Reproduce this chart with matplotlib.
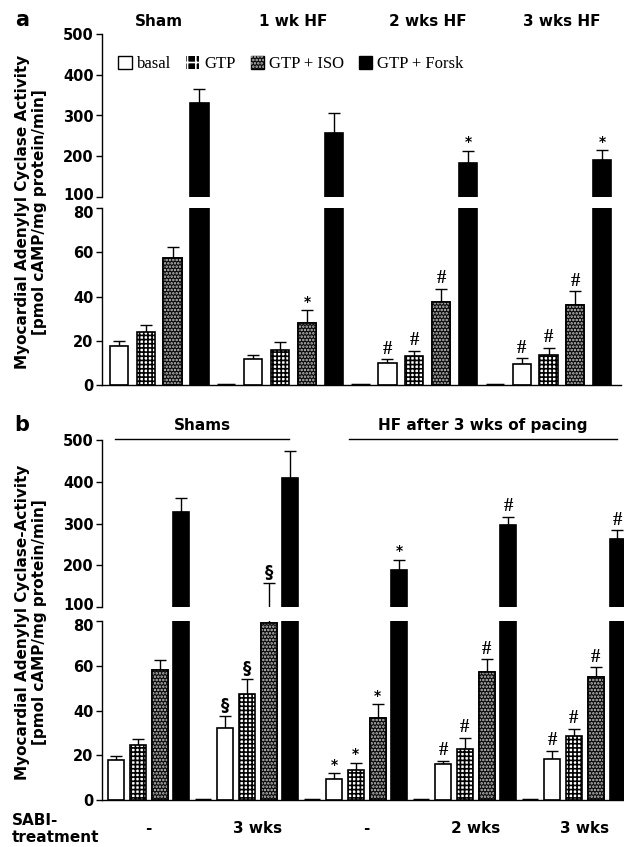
import numpy as np
import matplotlib.pyplot as plt
from matplotlib.patches import Patch
from matplotlib.transforms import blended_transform_factory, ScaledTranslation

plt.rcParams['font.family'] = 'DejaVu Sans'
plt.rcParams['font.weight'] = 'bold'
plt.rcParams['hatch.linewidth'] = 1.2

SERIES = ["basal", "GTP", "GTP + ISO", "GTP + Forsk"]

# ---------------- panel a (time course of HF) ----------------
a_groups = ["Sham", "1 wk HF", "2 wks HF", "3 wks HF"]
a_basal = [17.7, 11.9, 9.8, 9.5]
a_basal_err = [2.0, 1.8, 1.8, 2.7]
a_gtp = [24.0, 15.6, 12.9, 13.5]
a_gtp_err = [2.9, 3.8, 2.6, 3.3]
a_iso = [57.5, 28.1, 37.7, 36.3]
a_iso_err = [4.8, 5.8, 5.8, 6.2]
a_forsk = [331, 257, 184, 190]
a_forsk_err = [33, 48, 30, 25]
a_basal_sig = ["", "", "#", "#"]
a_gtp_sig = ["", "", "#", "#"]
a_iso_sig = ["", "*", "#", "#"]
a_forsk_sig = ["", "", "*", "*"]

# ---------------- panel b (SABI treatment) ----------------
b_treat = ["-", "3 wks", "-", "2 wks", "3 wks"]
b_basal = [18.1, 32.3, 9.6, 16.3, 18.5]
b_basal_err = [1.6, 5.2, 2.5, 1.2, 3.6]
b_gtp = [24.4, 47.4, 13.5, 22.9, 28.4]
b_gtp_err = [2.9, 6.5, 3.2, 5.0, 3.5]
b_iso = [58.1, 79.0, 36.7, 57.2, 55.0]
b_iso_err = [4.6, 78.0, 6.0, 5.8, 4.3]
b_forsk = [328, 410, 188, 296, 264]
b_forsk_err = [34, 63, 25, 20, 20]
b_basal_sig = ["", "§", "*", "#", "#"]
b_gtp_sig = ["", "§", "*", "#", "#"]
b_iso_sig = ["", "§", "*", "#", "#"]
b_forsk_sig = ["", "", "*", "#", "#"]

W, H = 624, 847


def fx(px):
    return px / W


def fy(py):
    return 1 - py / H


def style_axes(fig, ax_top, ax_bot, xlim):
    for ax in (ax_top, ax_bot):
        ax.set_xlim(*xlim)
        ax.spines['top'].set_visible(False)
        ax.spines['right'].set_visible(False)
        ax.spines['left'].set_linewidth(1)
        ax.tick_params(axis='y', direction='out', length=4, width=1,
                       labelsize=10.5, pad=2)
        ax.set_xticks([])
    ax_top.spines['bottom'].set_visible(False)
    ax_bot.spines['bottom'].set_linewidth(1)
    ax_top.set_ylim(100, 500)
    ax_top.set_yticks([100, 200, 300, 400, 500])
    ax_bot.set_ylim(0, 80)
    ax_bot.set_yticks([0, 20, 40, 60, 80])
    for ax in (ax_top, ax_bot):
        for lab in ax.get_yticklabels():
            lab.set_fontweight('bold')
    # nudge the two labels at the axis break apart
    up = ScaledTranslation(0, 2 / 72, fig.dpi_scale_trans)
    down = ScaledTranslation(0, -3 / 72, fig.dpi_scale_trans)
    lab100 = ax_top.get_yticklabels()[0]
    lab100.set_transform(lab100.get_transform() + up)
    lab80 = ax_bot.get_yticklabels()[-1]
    lab80.set_transform(lab80.get_transform() + down)


def draw_panel(ax_top, ax_bot, vals, errs, sigs, width):
    n = len(vals[0])
    gx = np.arange(n) * 5
    for ax in (ax_top, ax_bot):
        for s, (v, e) in enumerate(zip(vals, errs)):
            x = gx + s
            if s == 0:
                ax.bar(x, v, width, color='white', edgecolor='black', lw=1.2, zorder=2)
            elif s == 1:
                ax.bar(x, v, width, color='white', edgecolor='black', lw=1.2,
                       hatch='++++', zorder=2)
            elif s == 2:
                ax.bar(x, v, width, color='#0a0a0a', edgecolor='black', lw=1.2, zorder=2)
                ax.bar(x, v, width, color='none', edgecolor='#c8c8c8', lw=0,
                       hatch='.....', zorder=2.1)
                ax.bar(x, v, width, color='none', edgecolor='black', lw=1.2, zorder=2.2)
            else:
                ax.bar(x, v, width, color='black', edgecolor='black', lw=1.2, zorder=2)
            ax.errorbar(x, v, yerr=[np.zeros(n), e], fmt='none', ecolor='black',
                        elinewidth=1, capsize=4, capthick=1, zorder=1.5)
    # empty spacer slot between groups
    spacer = np.zeros(n - 1)
    ax_bot.bar(gx[:-1] + 4, spacer, width, color='black', edgecolor='black',
               lw=2.5, zorder=2)
    # significance marks
    for s, (v, e, sg) in enumerate(zip(vals, errs, sigs)):
        for i in range(n):
            if not sg[i]:
                continue
            top = v[i] + e[i]
            ax = ax_top if top >= 100 else ax_bot
            if sg[i] == "#":
                kw = dict(family='Liberation Serif', fontsize=13.5, fontweight='bold')
            elif sg[i] == "*":
                kw = dict(fontsize=10, fontweight='bold')
            else:
                kw = dict(fontsize=12, fontweight='bold')
            ax.annotate(sg[i], (gx[i] + s, top), xytext=(0, 1),
                        textcoords='offset points', ha='center', va='bottom', **kw)


fig = plt.figure(figsize=(W / 100, H / 100), dpi=100)

# ---------- panel a ----------
axa_top = fig.add_axes([fx(102), fy(197), fx(621 - 102), (197 - 34) / H])
axa_bot = fig.add_axes([fx(102), fy(385), fx(621 - 102), (385 - 208) / H])
a_vals = [a_basal, a_gtp, a_iso, a_forsk]
a_errs = [a_basal_err, a_gtp_err, a_iso_err, a_forsk_err]
a_sigs = [a_basal_sig, a_gtp_sig, a_iso_sig, a_forsk_sig]
draw_panel(axa_top, axa_bot, a_vals, a_errs, a_sigs, 0.68)
style_axes(fig, axa_top, axa_bot, (-0.63, 18.7))

trans = blended_transform_factory(axa_top.transData, fig.transFigure)
for i, g in enumerate(a_groups):
    axa_top.text(i * 5 + 1.5, fy(22), g, transform=trans, ha='center', va='center',
                 fontsize=11, fontweight='bold')

handles = [
    Patch(facecolor='white', edgecolor='black', lw=1),
    Patch(facecolor='black', edgecolor='white', lw=0, hatch='++'),
    (Patch(facecolor='#0a0a0a', edgecolor='black', lw=1),
     Patch(facecolor='none', edgecolor='#c8c8c8', lw=0, hatch='.....')),
    Patch(facecolor='black', edgecolor='black', lw=1),
]
axa_top.legend(handles, SERIES, loc='center left', bbox_to_anchor=(fx(110), fy(64)),
               bbox_transform=fig.transFigure, ncol=4, frameon=False,
               handlelength=0.8, handleheight=0.8, handletextpad=0.3,
               columnspacing=0.9, borderpad=0,
               prop=dict(family='Liberation Serif', size=12, weight='normal'))

fig.text(fx(31), fy(212), "Myocardial Adenylyl Cyclase Activity\n[pmol cAMP/mg protein/min]",
         rotation=90, ha='center', va='center', fontsize=11, fontweight='bold',
         linespacing=1.2)
fig.text(fx(22), fy(20), "a", ha='center', va='center', fontsize=15, fontweight='bold')

# ---------- panel b ----------
axb_top = fig.add_axes([fx(102), fy(607), fx(624 - 102), (607 - 440) / H])
axb_bot = fig.add_axes([fx(102), fy(800), fx(624 - 102), (800 - 621) / H])
b_vals = [b_basal, b_gtp, b_iso, b_forsk]
b_errs = [b_basal_err, b_gtp_err, b_iso_err, b_forsk_err]
b_sigs = [b_basal_sig, b_gtp_sig, b_iso_sig, b_forsk_sig]
draw_panel(axb_top, axb_bot, b_vals, b_errs, b_sigs, 0.73)
style_axes(fig, axb_top, axb_bot, (-0.64, 23.3))

transb = blended_transform_factory(axb_top.transData, fig.transFigure)
axb_top.plot([-0.05, 7.94], [fy(439)] * 2, color='black', lw=1, transform=transb,
             clip_on=False)
axb_top.plot([10.7, 23.0], [fy(439)] * 2, color='black', lw=1, transform=transb,
             clip_on=False)
axb_top.text(3.95, fy(425), "Shams", transform=transb, ha='center', va='center',
             fontsize=11, fontweight='bold')
axb_top.text(16.8, fy(425), "HF after 3 wks of pacing", transform=transb,
             ha='center', va='center', fontsize=11, fontweight='bold')

transbb = blended_transform_factory(axb_bot.transData, fig.transFigure)
for i, t in enumerate(b_treat):
    axb_bot.text(i * 5 + 1.5, fy(828), t, transform=transbb, ha='center', va='center',
                 fontsize=11, fontweight='bold')
fig.text(fx(12), fy(829), "SABI-\ntreatment", ha='left', va='center', fontsize=11,
         fontweight='bold', linespacing=1.2)

fig.text(fx(31), fy(622), "Myocardial Adenylyl Cyclase-Activity\n[pmol cAMP/mg protein/min]",
         rotation=90, ha='center', va='center', fontsize=11, fontweight='bold',
         linespacing=1.2)
fig.text(fx(22), fy(425), "b", ha='center', va='center', fontsize=15, fontweight='bold')

fig.savefig("out.png", dpi=100)
